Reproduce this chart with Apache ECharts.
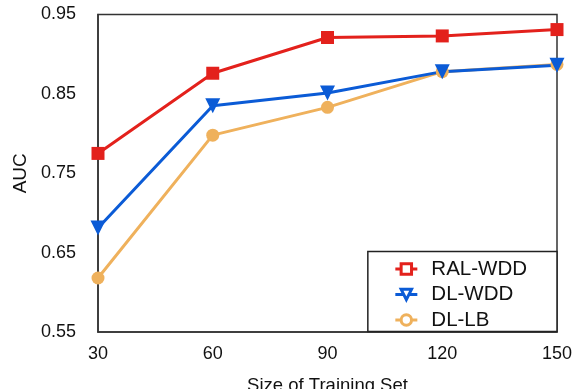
<!DOCTYPE html>
<html>
<head>
<meta charset="utf-8">
<script src="https://cdn.jsdelivr.net/npm/echarts@6/dist/echarts.min.js"></script>
<style>
  html, body { margin: 0; padding: 0; background: #fff; }
  #chart { width: 573px; height: 389px; }
</style>
</head>
<body>
<div id="chart"></div>
<script>
// Training-set sizes on the x axis
const trainingSizes = [30, 60, 90, 120, 150];
// AUC values per method
const ralWdd = [0.775, 0.876, 0.921, 0.923, 0.931];
const dlWdd = [0.681, 0.835, 0.851, 0.878, 0.886];
const dlLb = [0.618, 0.798, 0.833, 0.878, 0.887];
// Labelled y ticks
const yTickLabels = [0.55, 0.65, 0.75, 0.85, 0.95];

const FONT = '"Liberation Sans", Arial, Helvetica, sans-serif';
const RED = '#e3211c';
const BLUE = '#0b5bd6';
const ORANGE = '#efb15c';

function pairs(values) {
  return trainingSizes.map((x, i) => [x, values[i]]);
}

function lineSeries(name, values, color, symbol, size, rotate) {
  return {
    name: name,
    type: 'line',
    data: pairs(values),
    symbol: symbol,
    symbolSize: size,
    symbolRotate: rotate || 0,
    showAllSymbol: true,
    lineStyle: { color: color, width: 3 },
    itemStyle: { color: color },
    emphasis: { disabled: true },
    animation: false
  };
}

// hollow legend markers in each series colour
function legendItem(name, color) {
  return { name: name, itemStyle: { color: '#fff', borderColor: color, borderWidth: 3 } };
}

const chart = echarts.init(document.getElementById('chart'), null, { renderer: 'canvas' });
chart.setOption({
  backgroundColor: '#fff',
  grid: {
    left: 98, right: 16, top: 14.5, bottom: 57,
    containLabel: false,
    outerBoundsMode: 'none',
    show: true, borderColor: '#333', borderWidth: 1.5, backgroundColor: 'transparent'
  },
  xAxis: {
    type: 'value',
    min: 30, max: 150, interval: 30,
    name: 'Size of Training Set',
    nameLocation: 'middle',
    nameGap: 44,
    nameTextStyle: { fontFamily: FONT, fontSize: 18.5, color: '#111' },
    axisLine: { show: true, lineStyle: { color: '#333', width: 1.5 } },
    axisTick: { show: false },
    splitLine: { show: false },
    axisLabel: {
      fontFamily: FONT, fontSize: 18, color: '#111', margin: 13,
      formatter: v => trainingSizes.includes(v) ? String(v) : ''
    }
  },
  yAxis: {
    type: 'value',
    min: 0.55, max: 0.95, interval: 0.05,
    name: 'AUC',
    nameLocation: 'middle',
    nameGap: 67,
    nameTextStyle: { fontFamily: FONT, fontSize: 19, color: '#111' },
    axisLine: { show: true, lineStyle: { color: '#333', width: 1.5 } },
    axisTick: { show: false },
    splitLine: { show: false },
    axisLabel: {
      fontFamily: FONT, fontSize: 18, color: '#111', margin: 22,
      formatter: v => {
        const hit = yTickLabels.find(t => Math.abs(t - v) < 1e-6);
        return hit !== undefined ? hit.toFixed(2) : '';
      }
    }
  },
  legend: {
    orient: 'vertical',
    right: 16, bottom: 57.5,
    padding: [7, 30, 1, 26],
    itemGap: 4.5,
    itemWidth: 22,
    itemHeight: 13,
    backgroundColor: '#fff',
    borderColor: '#222',
    borderWidth: 1.5,
    borderRadius: 0,
    lineStyle: { width: 3 },
    textStyle: { fontFamily: FONT, fontSize: 20.5, color: '#111', lineHeight: 20, padding: [0, 0, 0, 9] },
    data: [legendItem('RAL-WDD', RED), legendItem('DL-WDD', BLUE), legendItem('DL-LB', ORANGE)]
  },
  series: [
    lineSeries('DL-LB', dlLb, ORANGE, 'circle', 13),
    lineSeries('DL-WDD', dlWdd, BLUE, 'triangle', 15, 180),
    lineSeries('RAL-WDD', ralWdd, RED, 'rect', 13)
  ]
});
</script>
</body>
</html>
